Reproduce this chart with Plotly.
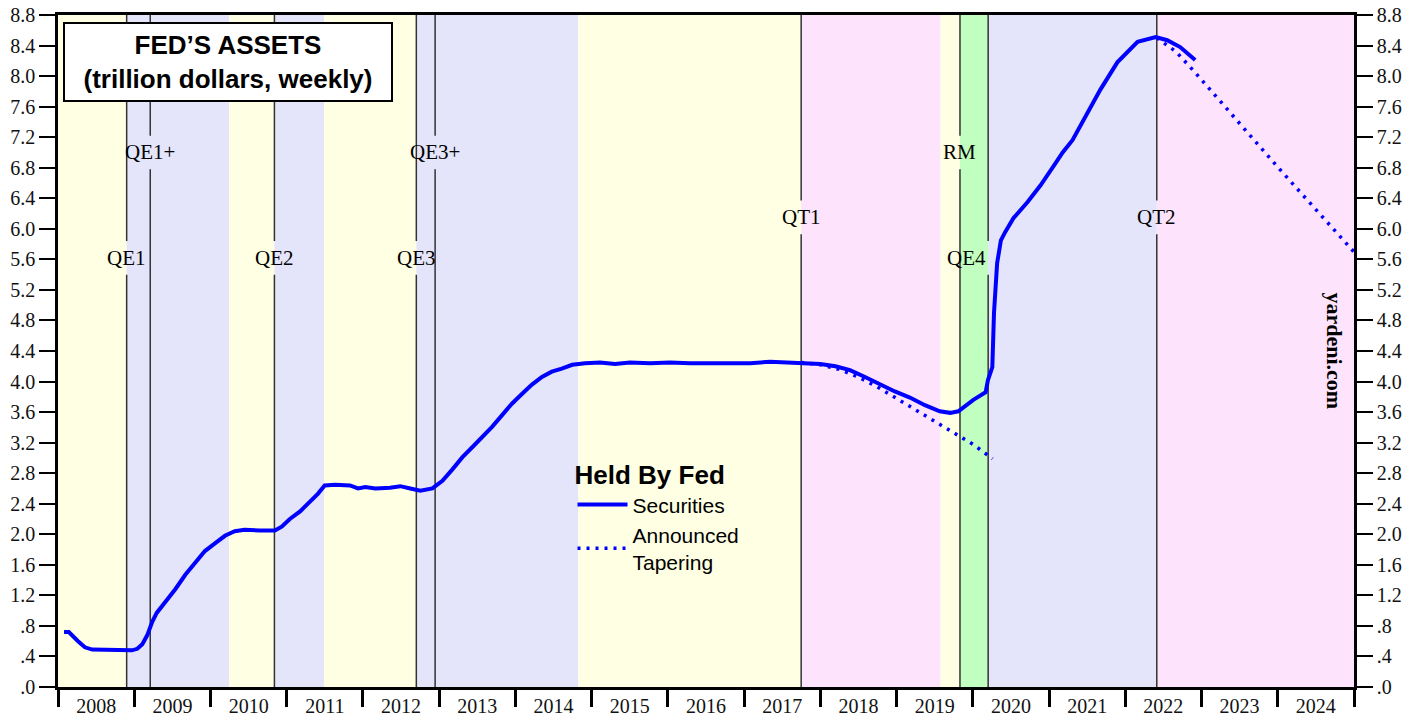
import plotly.graph_objects as go

# ---------------- data ----------------
sec_dates = [
    "2008-01-30", "2008-02-22", "2008-04-06", "2008-05-09", "2008-06-13", "2008-09-05",
    "2008-12-20", "2009-01-15", "2009-02-08", "2009-03-04", "2009-03-27", "2009-04-18",
    "2009-05-27", "2009-07-16", "2009-09-02", "2009-10-19", "2009-12-05", "2010-01-22",
    "2010-03-11", "2010-04-27", "2010-06-13", "2010-08-24", "2010-11-05", "2010-12-08",
    "2011-01-16", "2011-03-06", "2011-04-23", "2011-05-30", "2011-07-02", "2011-08-21",
    "2011-10-31", "2011-12-09", "2012-01-12", "2012-03-01", "2012-05-10", "2012-06-28",
    "2012-08-15", "2012-10-02", "2012-11-29", "2013-01-16", "2013-03-05", "2013-04-22",
    "2013-06-08", "2013-07-25", "2013-09-12", "2013-10-29", "2013-12-15", "2014-02-02",
    "2014-03-21", "2014-05-08", "2014-06-24", "2014-08-11", "2014-09-30", "2014-12-01",
    "2015-02-10", "2015-04-23", "2015-07-04", "2015-10-08", "2016-01-11", "2016-04-16",
    "2016-07-23", "2016-10-27", "2017-01-30", "2017-05-05", "2017-08-10", "2017-10-20",
    "2018-01-01", "2018-03-14", "2018-05-23", "2018-08-03", "2018-10-15", "2018-12-24",
    "2019-03-06", "2019-05-17", "2019-07-27", "2019-09-15", "2019-10-24", "2019-11-25",
    "2020-01-04", "2020-03-03", "2020-03-14", "2020-04-04", "2020-04-12", "2020-04-27",
    "2020-05-15", "2020-06-05", "2020-07-14", "2020-09-20", "2020-11-21", "2021-02-01",
    "2021-03-07", "2021-04-23", "2021-06-14", "2021-09-03", "2021-11-24", "2022-03-01",
    "2022-05-27", "2022-07-21", "2022-09-21", "2022-12-02",
]
sec_values = [
    0.72, 0.72, 0.60, 0.52, 0.49, 0.48,
    0.48, 0.50, 0.56, 0.68, 0.85, 0.97,
    1.10, 1.28, 1.47, 1.63, 1.78, 1.88,
    1.98, 2.04, 2.06, 2.05, 2.05, 2.10,
    2.20, 2.30, 2.43, 2.53, 2.64, 2.65,
    2.64, 2.60, 2.62, 2.60, 2.61, 2.63,
    2.60, 2.57, 2.60, 2.70, 2.85, 3.01,
    3.14, 3.27, 3.41, 3.56, 3.71, 3.84,
    3.96, 4.06, 4.13, 4.17, 4.22, 4.24,
    4.25, 4.23, 4.25, 4.24, 4.25, 4.24,
    4.24, 4.23, 4.24, 4.26, 4.25, 4.25,
    4.23, 4.20, 4.15, 4.06, 3.96, 3.87,
    3.79, 3.69, 3.61, 3.59, 3.61, 3.68,
    3.76, 3.86, 4.02, 4.19, 4.90, 5.55,
    5.85, 5.96, 6.14, 6.35, 6.57, 6.86,
    7.00, 7.16, 7.42, 7.82, 8.18, 8.45,
    8.51, 8.47, 8.38, 8.21,
]

qt1_dates = ["2017-10-01", "2018-01-01", "2018-04-01", "2018-07-01", "2018-10-01",
             "2019-01-01", "2019-04-01", "2019-07-01", "2019-10-01", "2020-01-01", "2020-04-05"]
qt1_values = [4.25, 4.22, 4.16, 4.06, 3.93, 3.78, 3.63, 3.48, 3.33, 3.18, 2.99]

qt2_dates = ["2022-06-01", "2022-09-01", "2022-12-01", "2023-06-01", "2024-01-01", "2024-12-31"]
qt2_values = [8.50, 8.32, 8.05, 7.48, 6.81, 5.70]

y_tick_values = [0.0, 0.4, 0.8, 1.2, 1.6, 2.0, 2.4, 2.8, 3.2, 3.6, 4.0, 4.4,
                 4.8, 5.2, 5.6, 6.0, 6.4, 6.8, 7.2, 7.6, 8.0, 8.4, 8.8]
y_tick_labels = [".0", ".4", ".8", "1.2", "1.6", "2.0", "2.4", "2.8", "3.2", "3.6", "4.0", "4.4",
                 "4.8", "5.2", "5.6", "6.0", "6.4", "6.8", "7.2", "7.6", "8.0", "8.4", "8.8"]

event_labels = ["QE1", "QE1+", "QE2", "QE3", "QE3+", "QT1", "RM", "QE4", "QT2"]
event_dates = ["2008-11-25", "2009-03-18", "2010-11-03", "2012-09-13", "2012-12-12",
               "2017-10-01", "2019-11-01", "2020-03-15", "2022-06-01"]
event_label_y = [5.62, 7.0, 5.62, 5.62, 7.0, 6.15, 7.0, 5.62, 6.15]
event_label_anchor = ["center", "center", "center", "center", "center",
                      "center", "center", "right", "center"]

period_starts = ["2008-01-01", "2008-11-25", "2010-03-31", "2010-11-03", "2011-06-30",
                 "2012-09-13", "2014-10-29", "2017-10-01", "2019-07-31", "2019-11-01",
                 "2020-03-15", "2022-06-01"]
period_ends = ["2008-11-25", "2010-03-31", "2010-11-03", "2011-06-30", "2012-09-13",
               "2014-10-29", "2017-10-01", "2019-07-31", "2019-11-01", "2020-03-15",
               "2022-06-01", "2025-01-01"]
period_kinds = ["neutral", "qe", "neutral", "qe", "neutral", "qe", "neutral", "qt",
                "neutral", "rm", "qe", "qt"]

# ---------------- styles ----------------
kind_colors = {"neutral": "#FFFFE3", "qe": "#E4E4FA", "qt": "#FDE3FB", "rm": "#C0FFC0"}
serif = "Liberation Serif, Times New Roman, serif"
sans = "Liberation Sans, Arial, sans-serif"
blue = "#0000FF"
y_min, y_max = 0.0, 8.8
label_gap = 0.22

fig = go.Figure()

fig.add_trace(go.Scatter(
    x=sec_dates, y=sec_values, mode="lines", name="Securities",
    line=dict(color=blue, width=4), hoverinfo="skip"))
fig.add_trace(go.Scatter(
    x=qt1_dates, y=qt1_values, mode="lines", name="Announced<br>Tapering",
    line=dict(color=blue, width=3.5, dash="3px,6px"), hoverinfo="skip"))
fig.add_trace(go.Scatter(
    x=qt2_dates, y=qt2_values, mode="lines", name="Announced Tapering",
    line=dict(color=blue, width=3.5, dash="3px,6px"), showlegend=False, hoverinfo="skip"))
# invisible trace so the right-hand axis is drawn
fig.add_trace(go.Scatter(
    x=[period_starts[0]], y=[y_min], yaxis="y2", mode="markers",
    marker=dict(opacity=0), showlegend=False, hoverinfo="skip"))

shapes = []
for s, e, k in zip(period_starts, period_ends, period_kinds):
    shapes.append(dict(type="rect", xref="x", yref="paper", x0=s, x1=e, y0=0, y1=1,
                       fillcolor=kind_colors[k], line=dict(width=0), layer="below"))
for d, ly in zip(event_dates, event_label_y):
    shapes.append(dict(type="line", xref="x", yref="y", x0=d, x1=d, y0=y_min, y1=ly - label_gap,
                       line=dict(color="#333333", width=1.5), layer="below"))
    shapes.append(dict(type="line", xref="x", yref="y", x0=d, x1=d, y0=ly + label_gap, y1=y_max,
                       line=dict(color="#333333", width=1.5), layer="below"))

annotations = []
for lab, d, ly, anc in zip(event_labels, event_dates, event_label_y, event_label_anchor):
    annotations.append(dict(x=d, y=ly, xref="x", yref="y", text=lab, showarrow=False,
                            xanchor=anc, yanchor="middle",
                            font=dict(family=serif, size=21, color="black")))

annotations.append(dict(
    xref="paper", yref="paper", x=0.004, y=0.99, xanchor="left", yanchor="top",
    text="<b>FED’S ASSETS<br>(trillion dollars, weekly)</b>", showarrow=False,
    align="center", font=dict(family=sans, size=26, color="black"),
    bgcolor="white", bordercolor="black", borderwidth=2, borderpad=5,
    width=316, height=66))

annotations.append(dict(
    xref="paper", yref="paper", x=0.985, y=0.50, xanchor="center", yanchor="middle",
    text="<b>yardeni.com</b>", textangle=90, showarrow=False,
    font=dict(family=serif, size=22, color="black")))

axis_common = dict(automargin=False, showgrid=False, zeroline=False)

fig.update_layout(
    width=1419, height=719,
    margin=dict(l=58, r=65, t=15, b=32, autoexpand=False),
    paper_bgcolor="white", plot_bgcolor="white",
    shapes=shapes, annotations=annotations,
    showlegend=True,
    legend=dict(
        x=0.397, y=0.352, xanchor="left", yanchor="top",
        bgcolor="rgba(0,0,0,0)",
        title=dict(text="<b>Held By Fed</b>", font=dict(family=sans, size=26, color="black")),
        font=dict(family=sans, size=21, color="black"),
        tracegroupgap=0, itemwidth=50),
    xaxis=dict(
        type="date", range=["2008-01-01", "2025-01-01"],
        tick0="2008-01-01", dtick="M12", tickformat="%Y", ticklabelmode="period",
        ticks="outside", ticklen=17, tickwidth=2.5, tickcolor="black",
        showline=True, linewidth=2.5, linecolor="black", mirror=True,
        ticklabelstandoff=-18,
        tickfont=dict(family=serif, size=20, color="#111111"), **axis_common),
    yaxis=dict(
        range=[y_min, y_max], tickvals=y_tick_values, ticktext=y_tick_labels,
        ticks="outside", ticklen=16, tickwidth=1.5, tickcolor="black",
        showline=True, linewidth=2.5, linecolor="black",
        tickfont=dict(family=serif, size=20, color="#111111"), **axis_common),
    yaxis2=dict(
        range=[y_min, y_max], tickvals=y_tick_values, ticktext=y_tick_labels,
        overlaying="y", side="right",
        ticks="outside", ticklen=16, tickwidth=1.5, tickcolor="black",
        showline=True, linewidth=2.5, linecolor="black",
        tickfont=dict(family=serif, size=20, color="#111111"), **axis_common),
)

fig.write_html("out.html", config={"displayModeBar": False},
               post_script="document.body.style.margin='0';document.body.style.overflow='hidden';")
